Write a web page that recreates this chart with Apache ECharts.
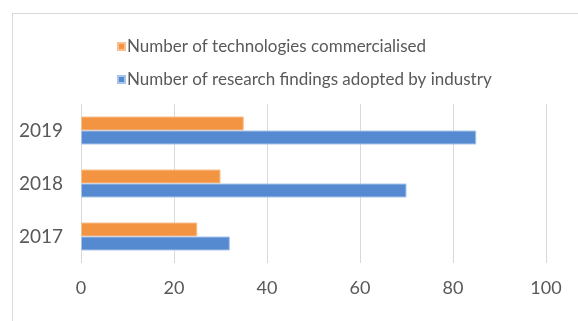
<!DOCTYPE html>
<html>
<head>
<meta charset="utf-8">
<script src="https://cdn.jsdelivr.net/npm/echarts@6/dist/echarts.min.js"></script>
<style>
  html, body { margin: 0; padding: 0; background: #ffffff; }
  #frame { position: absolute; left: 12px; top: 13px; width: 580px; height: 320px; border: 1px solid #d9d9d9; box-sizing: border-box; }
  #chart { width: 578px; height: 321px; }
</style>
</head>
<body>
<div id="frame"></div>
<div id="chart" style="position:absolute;left:0;top:0;"></div>
<script>
const years = ['2017', '2018', '2019'];
const technologiesCommercialised = [25, 30, 35];
const findingsAdopted = [32, 70, 85];
const xTicks = { min: 0, max: 100, interval: 20 };
const seriesNames = ['Number of technologies commercialised', 'Number of research findings adopted by industry'];

const chart = echarts.init(document.getElementById('chart'), null, { renderer: 'canvas' });
const font = 'Lato, "Open Sans", sans-serif';

chart.setOption({
  animation: false,
  backgroundColor: 'transparent',
  textStyle: { fontFamily: font },
  legend: {
    orient: 'vertical',
    left: 112,
    top: 33,
    itemWidth: 7,
    itemHeight: 7,
    itemGap: 16,
    icon: 'rect',
    data: seriesNames,
    textStyle: { fontFamily: font, fontSize: 17, color: '#595959', padding: [0, 0, 0, -3] }
  },
  grid: { left: 81, right: 32, top: 104, bottom: 58, containLabel: false },
  xAxis: {
    type: 'value',
    min: xTicks.min,
    max: xTicks.max,
    interval: xTicks.interval,
    axisLine: { show: false },
    axisTick: { show: false },
    splitLine: { lineStyle: { color: '#d9d9d9', width: 1 } },
    axisLabel: { fontFamily: font, fontSize: 18, color: '#595959', margin: 16 }
  },
  yAxis: {
    type: 'category',
    data: years,
    axisLine: { show: false },
    axisTick: { show: false },
    axisLabel: { fontFamily: font, fontSize: 19, color: '#595959', margin: 18, padding: [6, 0, 0, 0] }
  },
  series: [
    {
      name: seriesNames[0],
      type: 'bar',
      data: technologiesCommercialised,
      barWidth: 14,
      barGap: '0%',
      itemStyle: { color: '#f29442', borderColor: '#f7c08e', borderWidth: 1 }
    },
    {
      name: seriesNames[1],
      type: 'bar',
      data: findingsAdopted,
      barWidth: 14,
      barGap: '0%',
      itemStyle: { color: '#5589d0', borderColor: '#a9c4ea', borderWidth: 1 }
    }
  ]
});
</script>
</body>
</html>
